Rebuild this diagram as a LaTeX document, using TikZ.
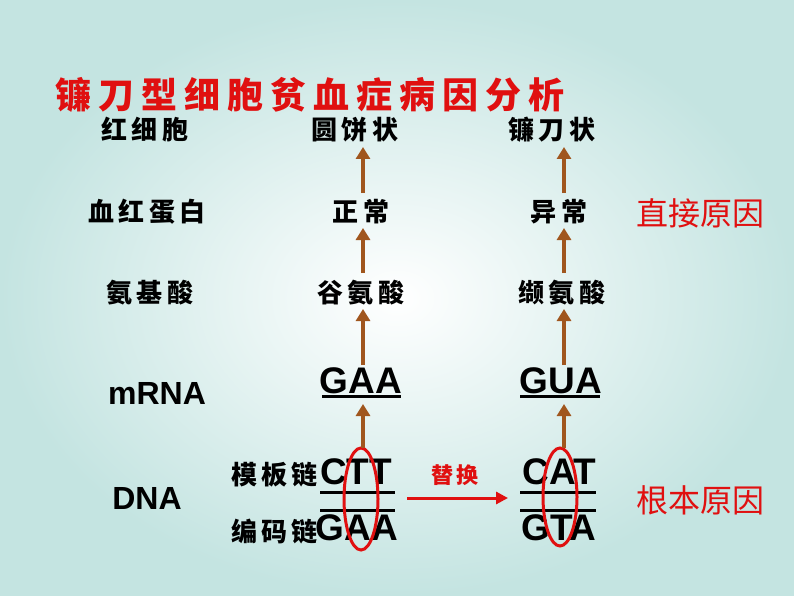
\documentclass[tikz,border=0pt]{standalone}
\usepackage{fontspec}
\setmainfont{Liberation Sans}
\newfontfamily\cjk{Noto Sans CJK SC}
\usetikzlibrary{arrows.meta}
\definecolor{bgedge}{HTML}{C4E4E1}
\definecolor{brn}{HTML}{A0561E}
\definecolor{rd}{HTML}{E01010}
\newcommand{\tg}{\hspace{7pt}}
\tikzset{
  lab/.style={font=\cjk\bfseries\fontsize{26}{26}\selectfont, inner sep=0},
  gene/.style={font=\bfseries\fontsize{37}{37}\selectfont, inner sep=0},
  up/.style={brn, line width=4pt, -{Triangle[length=12pt,width=14pt]}},
  strand/.style={line width=3pt},
  circ/.style={rd, line width=3pt},
}
\begin{document}
\begin{tikzpicture}[x=1pt,y=-1pt]
\shade[inner color=white, outer color=bgedge] (0,0) rectangle (794,596);
\useasboundingbox (0,0) rectangle (794,596);
\node[font=\cjk\bfseries\fontsize{36}{36}\selectfont, text=rd, inner sep=0, anchor=west] (title) at (55,95) {镰\tg 刀\tg 型\tg 细\tg 胞\tg 贫\tg 血\tg 症\tg 病\tg 因\tg 分\tg 析};
% column 1
\node[lab] (r1) at (145,130) {红\,细\,胞};
\node[lab] (h1) at (147,212) {血\,红\,蛋\,白};
\node[lab] (a1) at (150,293) {氨\,基\,酸};
\node[font=\bfseries\fontsize{32}{32}\selectfont, inner sep=0] (m1) at (157,393) {mRNA};
\node[font=\bfseries\fontsize{32}{32}\selectfont, inner sep=0] (d1) at (147,498) {DNA};
% column 2
\node[lab] (r2) at (355,130) {圆\,饼\,状};
\node[lab] (h2) at (361,212) {正\,常};
\node[lab] (a2) at (361,293) {谷\,氨\,酸};
\node[gene] (m2) at (361,381) {GAA};
\draw[strand] (322,396) -- (401,396);
% column 3
\node[lab] (r3) at (552,130) {镰\,刀\,状};
\node[lab] (h3) at (559,212) {异\,常};
\node[lab] (a3) at (562,293) {缬\,氨\,酸};
\node[gene] (m3) at (561,381) {GUA};
\draw[strand] (520,396) -- (600,396);
% right labels
\node[font=\cjk\fontsize{32}{32}\selectfont, text=rd, inner sep=0] (c1) at (700,213) {直接原因};
\node[font=\cjk\fontsize{32}{32}\selectfont, text=rd, inner sep=0] (c2) at (700,500) {根本原因};
% DNA
\node[lab, anchor=east] (t1) at (318,475) {模\,板\,链};
\node[lab, anchor=east] (b1) at (318,532) {编\,码\,链};
\node[gene] (s1) at (356,472) {CTT};
\node[gene] (s2) at (357,528) {GAA};
\draw[strand] (320,492) -- (395,492);
\draw[strand] (320,510) -- (395,510);
\node[gene] (s3) at (559,472) {CAT};
\node[gene] (s4) at (559,528) {GTA};
\draw[strand] (520,492) -- (596,492);
\draw[strand] (520,510) -- (596,510);
\draw[circ] (361,499) ellipse [x radius=17, y radius=51];
\draw[circ] (560,497) ellipse [x radius=17, y radius=49];
\coordinate (e1) at (363,448);
\coordinate (e2) at (564,448);
\coordinate (x1) at (407,498);
\coordinate (x2) at (508,498);
\draw[rd, line width=3pt, -{Triangle[length=12pt,width=12pt]}] (x1) -- (x2);
\node[font=\cjk\bfseries\fontsize{22}{22}\selectfont, text=rd, inner sep=0] (sub) at (455,475) {替\,换};
% arrows
\draw[up] (e1) -- (363,404);
\draw[up] (363,365) -- (363,309);
\draw[up] (363,273) -- (363,228);
\draw[up] (363,193) -- (363,147);
\draw[up] (e2) -- (564,404);
\draw[up] (564,365) -- (564,309);
\draw[up] (564,273) -- (564,228);
\draw[up] (564,193) -- (564,147);
\end{tikzpicture}
\end{document}
